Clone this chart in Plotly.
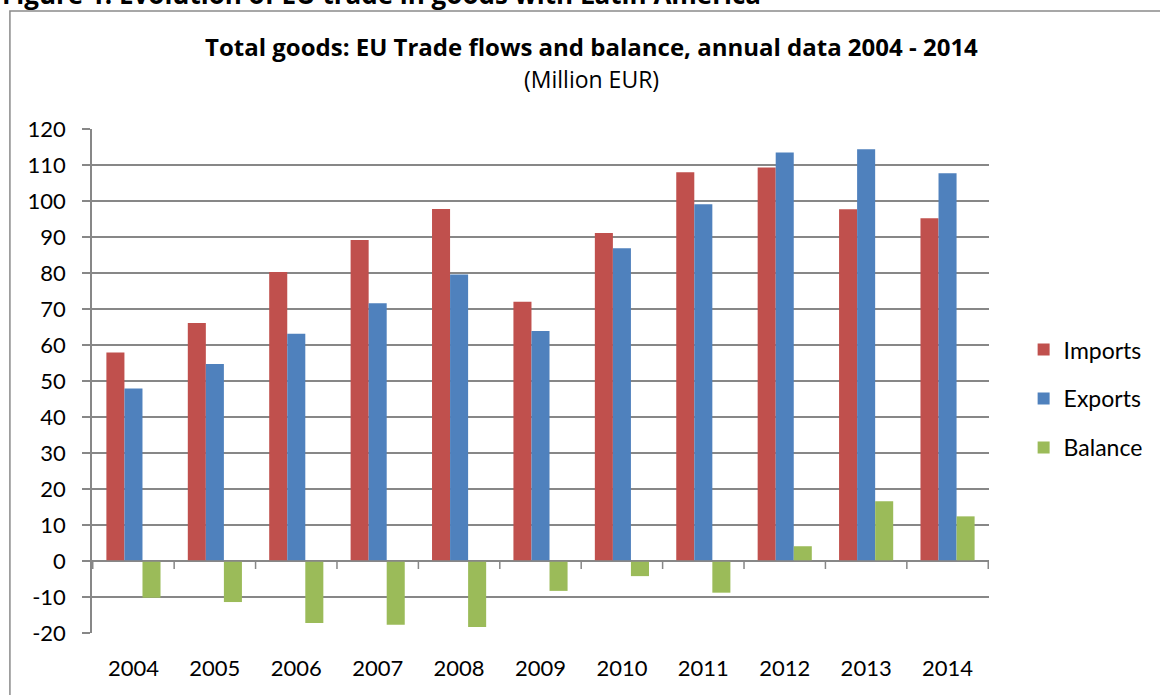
import plotly.graph_objects as go

years = ["2004", "2005", "2006", "2007", "2008", "2009", "2010", "2011", "2012", "2013", "2014"]
imports = [57.9, 66.1, 80.3, 89.2, 97.8, 72.0, 91.1, 108.0, 109.3, 97.7, 95.2]
exports = [47.9, 54.7, 63.1, 71.6, 79.6, 63.9, 86.9, 99.1, 113.5, 114.4, 107.7]
balance = [-10.2, -11.4, -17.2, -17.7, -18.3, -8.3, -4.2, -8.8, 4.1, 16.6, 12.4]
y_ticks = list(range(-20, 121, 10))
y_tick_labels = [str(v) for v in y_ticks]

FONT = "Lato, 'Open Sans', sans-serif"
TFONT = "'Open Sans', Lato, sans-serif"
GRID = "#878787"

fig = go.Figure()
for name, vals, col in [("Imports", imports, "#C0504D"),
                        ("Exports", exports, "#4F81BD"),
                        ("Balance", balance, "#9BBB59")]:
    fig.add_trace(go.Bar(x=years, y=vals, name=name, marker_color=col,
                         marker_line_width=0, legendgroup=name))

shapes = []
# category boundary tick marks on the zero line
for i in range(len(years) + 1):
    shapes.append(dict(type="line", xref="x", yref="y", x0=i - 0.5, x1=i - 0.5,
                       ysizemode="pixel", yanchor=0, y0=0, y1=-8,
                       line=dict(color=GRID, width=1.5)))
# zero line
shapes.append(dict(type="line", xref="x", yref="y", x0=-0.5, x1=len(years) - 0.5,
                   y0=0, y1=0, line=dict(color=GRID, width=1.5)))
# outer frame
shapes.append(dict(type="rect", xref="paper", yref="paper", x0=-0.0915, x1=1.3,
                   y0=-0.3, y1=1.234, line=dict(color="#8a8a8a", width=1.5),
                   fillcolor="rgba(0,0,0,0)", layer="below"))

fig.update_layout(
    width=1160, height=695,
    margin=dict(l=92, r=161, t=129, b=62),
    paper_bgcolor="white", plot_bgcolor="white",
    font=dict(family=FONT, size=22, color="black"),
    barmode="group", bargap=0.335, bargroupgap=0,
    showlegend=True,
    legend=dict(x=1.0386, y=0.465, xanchor="left", yanchor="middle",
                font=dict(size=23), tracegroupgap=16, traceorder="grouped",
                itemwidth=30),
    shapes=shapes,
    annotations=[
        dict(text="<b>Figure 1: Evolution of EU trade in goods with Latin America</b>",
             xref="paper", yref="paper", x=-0.103, y=1.228, xanchor="left",
             yanchor="bottom", showarrow=False,
             font=dict(family=TFONT, size=26)),
        dict(text="<b>Total goods: EU Trade flows and balance, annual data 2004 - 2014</b>",
             xref="paper", yref="paper", x=0.5565, y=1.163, xanchor="center",
             yanchor="middle", showarrow=False, font=dict(family=TFONT, size=24)),
        dict(text="(Million EUR)", xref="paper", yref="paper", x=0.5565, y=1.099,
             xanchor="center", yanchor="middle", showarrow=False,
             font=dict(family=TFONT, size=23)),
    ],
)
fig.update_xaxes(showgrid=False, showline=False, ticks="", zeroline=False,
                 ticklabelstandoff=20, tickfont=dict(size=22))
fig.update_yaxes(range=[-20, 120], tickvals=y_ticks, ticktext=y_tick_labels,
                 showgrid=True, gridcolor=GRID,
                 gridwidth=1.5, showline=True, linecolor=GRID, linewidth=1.5,
                 ticks="outside", ticklen=8, tickcolor=GRID, tickwidth=1.5,
                 zeroline=False, tickfont=dict(size=22), ticklabelstandoff=12)

fig.write_html("out.html", config={"displayModeBar": False},
               post_script="document.body.style.margin='0';")
